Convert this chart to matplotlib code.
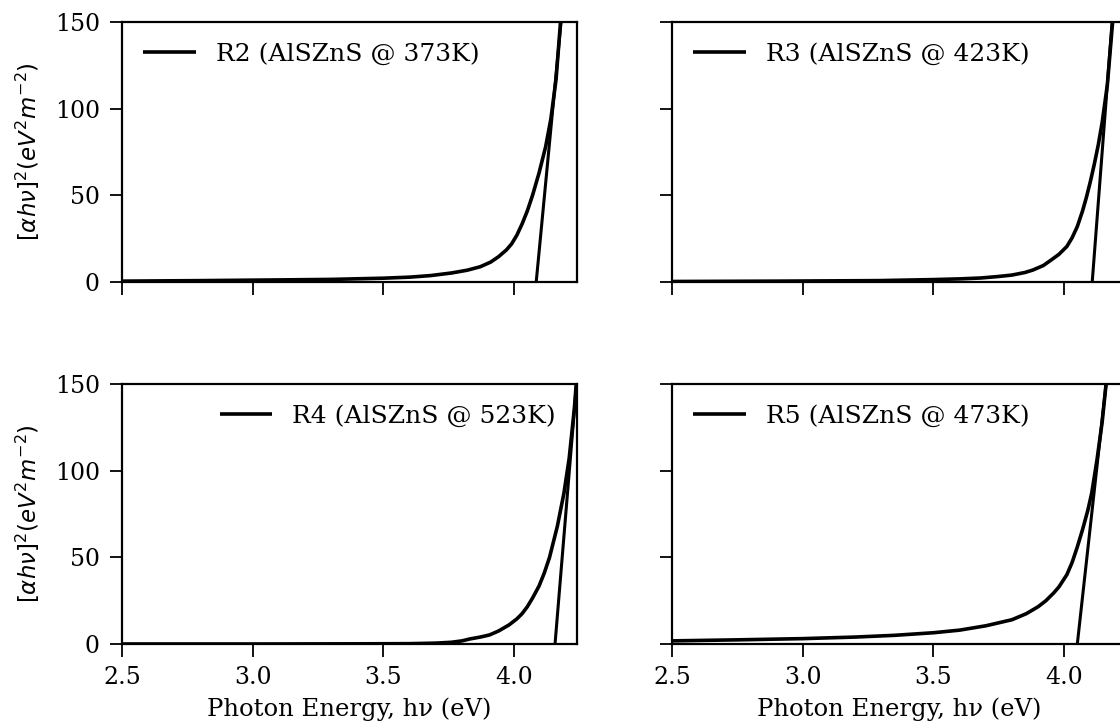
import matplotlib
matplotlib.use("Agg")
import matplotlib.pyplot as plt

### Data ###
labels = ["R2 (AlSZnS @ 373K)", "R3 (AlSZnS @ 423K)",
          "R4 (AlSZnS @ 523K)", "R5 (AlSZnS @ 473K)"]
legend_loc = ["upper left", "upper left", "upper right", "upper left"]

r2_x = [2.50, 2.80, 3.10, 3.30, 3.50, 3.60, 3.68, 3.76, 3.82, 3.87, 3.91, 3.94, 3.97, 3.99, 4.01, 4.03, 4.05, 4.07, 4.095, 4.12, 4.14, 4.16, 4.177]
r2_y = [0.5, 0.8, 1.2, 1.5, 2.2, 2.8, 3.7, 5.2, 6.8, 8.8, 11.5, 14.6, 18.5, 22.0, 27.0, 33.5, 41.0, 50.0, 63.0, 78.0, 94.0, 117.0, 150.0]
r3_x = [2.50, 2.90, 3.29, 3.50, 3.60, 3.68, 3.75, 3.80, 3.85, 3.88, 3.92, 3.95, 3.98, 4.01, 4.03, 4.05, 4.07, 4.085, 4.10, 4.115, 4.13, 4.145, 4.165, 4.185]
r3_y = [0.3, 0.5, 0.8, 1.4, 1.8, 2.3, 3.2, 4.0, 5.5, 6.9, 9.5, 12.7, 16.0, 20.5, 25.5, 32.0, 41.0, 49.0, 58.0, 68.0, 79.0, 92.0, 114.0, 150.0]
r4_x = [2.50, 3.00, 3.40, 3.60, 3.70, 3.76, 3.80, 3.83, 3.87, 3.905, 3.94, 3.98, 4.01, 4.03, 4.05, 4.07, 4.095, 4.115, 4.135, 4.165, 4.19, 4.21, 4.23, 4.237]
r4_y = [0.0, 0.0, 0.1, 0.2, 0.5, 1.0, 1.8, 2.9, 4.0, 5.2, 7.5, 11.0, 14.5, 17.5, 21.5, 26.5, 33.5, 41.0, 50.0, 68.0, 87.0, 107.0, 136.0, 150.0]
r5_x = [2.50, 2.75, 3.00, 3.20, 3.35, 3.50, 3.60, 3.70, 3.80, 3.855, 3.90, 3.93, 3.96, 3.98, 4.01, 4.03, 4.05, 4.07, 4.09, 4.105, 4.125, 4.145, 4.16]
r5_y = [1.8, 2.4, 3.1, 4.0, 5.0, 6.5, 8.0, 10.5, 14.0, 17.5, 21.5, 25.0, 29.5, 33.0, 40.0, 47.0, 56.0, 66.0, 77.0, 87.0, 106.0, 128.0, 150.0]

# linear fits (endpoints of the tangent lines)
fit_x = [[4.084, 4.179], [4.107, 4.183], [4.156, 4.237], [4.050, 4.160]]
fit_y = [[0, 150], [0, 150], [0, 148], [0, 150]]

xticks = [2.5, 3.0, 3.5, 4.0]
yticks = [0, 50, 100, 150]
######################################

curves_x = [r2_x, r3_x, r4_x, r5_x]
curves_y = [r2_y, r3_y, r4_y, r5_y]

plt.rcParams["font.family"] = ["DejaVu Serif"]
plt.rcParams["font.size"] = 17
plt.rcParams["axes.linewidth"] = 1.6
plt.rcParams["xtick.major.size"] = 9
plt.rcParams["ytick.major.size"] = 9
plt.rcParams["xtick.major.width"] = 1.3
plt.rcParams["ytick.major.width"] = 1.3
plt.rcParams["xtick.major.pad"] = 7
plt.rcParams["ytick.major.pad"] = 7
plt.rcParams["xtick.labelsize"] = 17
plt.rcParams["ytick.labelsize"] = 17
plt.rcParams["lines.solid_capstyle"] = "butt"
plt.rcParams["lines.solid_joinstyle"] = "round"

fig = plt.figure(figsize=(11.2, 7.28), dpi=100)

# axes placed so the right column runs past the figure edge, as in the reference
w, h = 455 / 1120, 260 / 728
positions = [(122 / 1120, 1 - 282 / 728), (672 / 1120, 1 - 282 / 728),
             (122 / 1120, 1 - 644 / 728), (672 / 1120, 1 - 644 / 728)]

axes = []
for i, (x0, y0) in enumerate(positions):
    if i == 0:
        ax = fig.add_axes([x0, y0, w, h])
    else:
        ax = fig.add_axes([x0, y0, w, h], sharex=axes[0], sharey=axes[0])
    axes.append(ax)

for i, ax in enumerate(axes):
    ax.plot(curves_x[i], curves_y[i], color="black", lw=2.6, label=labels[i])
    ax.plot(fit_x[i], fit_y[i], color="black", lw=2.2)
    ax.set_xlim(2.5, 4.24)
    ax.set_ylim(0, 150)
    ax.set_xticks(xticks)
    ax.set_yticks(yticks)
    ax.legend(loc=legend_loc[i], frameon=False, handlelength=2.1,
              fontsize=18, borderaxespad=0.45)
    if i < 2:
        ax.tick_params(labelbottom=False)
    else:
        ax.set_xlabel("Photon Energy, h\u03bd (eV)", fontsize=17.5, labelpad=6)
    if i % 2 == 1:
        ax.tick_params(labelleft=False)
    else:
        ax.set_ylabel(r"$[\alpha h\nu]^2 (eV^2 m^{-2})$", fontsize=16.5, labelpad=9)

fig.savefig("out.png", dpi=100)
